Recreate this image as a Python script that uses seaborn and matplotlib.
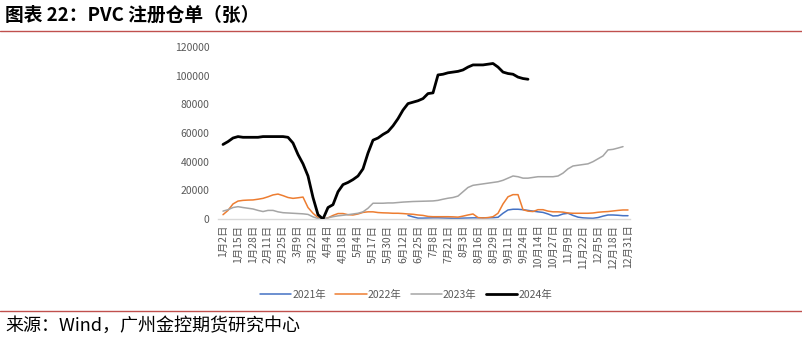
import numpy as np
import pandas as pd
import matplotlib
matplotlib.use("Agg")
import matplotlib.pyplot as plt
from matplotlib.lines import Line2D
import seaborn as sns

# ---- data (sampled every 1/3 of a tick interval) ----
tick_labels = ["1月2日", "1月15日", "1月28日", "2月11日", "2月25日", "3月9日", "3月22日",
               "4月4日", "4月18日", "5月4日", "5月17日", "5月30日", "6月12日", "6月25日",
               "7月8日", "7月21日", "8月3日", "8月16日", "8月29日", "9月11日", "9月24日",
               "10月14日", "10月27日", "11月9日", "11月22日", "12月5日", "12月18日", "12月31日"]
nan = np.nan
y2021 = [nan] * 37 + [2500, 1500, 600, 600, 700, 800, 800, 700, 600, 500, 500, 600, 700, 800,
                      800, 800, 800, 900, 1200, 4000, 6300, 6800, 6800, 6500, 6000, 5500, 5000,
                      4600, 3500, 2100, 2300, 3500, 4000, 2500, 1300, 800, 600, 500, 1000, 2000,
                      2800, 2800, 2600, 2300, 2300]
y2022 = [3000, 6000, 10500, 12500, 13000, 13200, 13300, 13800, 14400, 15500, 16800, 17400,
         16300, 15000, 14400, 14800, 15300, 8000, 4000, 1000, 0, 800, 2500, 3800, 3800, 3000,
         2800, 3500, 4600, 5000, 5000, 4500, 4300, 4200, 4000, 4000, 3800, 3500, 3300, 2800,
         2500, 1800, 1600, 1600, 1600, 1600, 1500, 1300, 2000, 2800, 3500, 1000, 700, 1000,
         1600, 4000, 10500, 15500, 17000, 17000, 6500, 5500, 5200, 6500, 6500, 5500, 5000,
         5000, 4800, 4200, 4000, 4000, 4000, 4000, 4200, 4700, 5000, 5200, 5600, 6000, 6300, 6300]
y2023 = [5500, 6500, 8000, 8600, 8000, 7500, 7000, 6000, 5200, 6000, 6000, 5000, 4400, 4200,
         4000, 3800, 3600, 3200, 1500, 300, 0, 800, 1600, 2200, 2600, 3000, 3500, 4000, 5000,
         7500, 11000, 11000, 11000, 11200, 11200, 11500, 11800, 12000, 12200, 12300, 12400,
         12500, 12600, 13000, 13800, 14500, 15000, 16000, 19000, 22000, 23500, 24000, 24500,
         25000, 25500, 26000, 27000, 28500, 30000, 29500, 28500, 28500, 29000, 29500, 29500,
         29500, 29500, 30000, 32000, 35000, 37000, 37500, 38000, 38500, 40000, 42000, 44000,
         48200, 48600, 49500, 50500, nan]
y2024 = [52000, 54000, 56500, 57500, 57000, 57000, 57000, 57000, 57500, 57500, 57500, 57500,
         57500, 57000, 53000, 45000, 38500, 30000, 15000, 3000, 0, 8000, 10000, 19000, 24000,
         25500, 27500, 30000, 35000, 46000, 55000, 56500, 59000, 61000, 65000, 70000, 76000,
         80500, 81500, 82500, 84000, 87500, 88000, 100500, 101000, 102000, 102500, 103000,
         104000, 106000, 107500, 107500, 107500, 108000, 108500, 106000, 102500, 101500, 101000,
         99000, 98000, 97500] + [nan] * 20
series_names = ["2021年", "2022年", "2023年", "2024年"]
series_vals = [y2021, y2022, y2023, y2024]
colors = ["#4472C4", "#ED7D31", "#A5A5A5", "#000000"]
widths = [1.1, 1.1, 1.1, 2.0]

steps_per_tick = 3
n = len(y2022)
idx = np.arange(n)
df = pd.concat([pd.DataFrame({"idx": idx, "value": v, "year": name})
                for name, v in zip(series_names, series_vals)], ignore_index=True)

sns.set_theme(style="white")
plt.rcParams["font.family"] = ["Noto Sans CJK SC", "DejaVu Sans"]

W, H = 803, 342
fig = plt.figure(figsize=(W / 100, H / 100), dpi=100)
ax_l, ax_r, ax_t, ax_b = 218, 630, 47, 219
ax = fig.add_axes([ax_l / W, 1 - ax_b / H, (ax_r - ax_l) / W, (ax_b - ax_t) / H])

for name, c, lw in zip(series_names, colors, widths):
    sub = df[df["year"] == name].dropna()
    sns.lineplot(data=sub, x="idx", y="value", color=c, linewidth=lw, ax=ax,
                 label=name, legend=False, zorder=3 if name == "2024年" else 2)

ax.set_xlim(-1, (ax_r - ax_l) / 5 - 1)
ax.set_ylim(0, 120000)
ax.set_yticks(np.arange(0, 120001, 20000))
ax.set_yticklabels([str(v) for v in range(0, 120001, 20000)])
ax.set_xticks(np.arange(0, n, steps_per_tick))
ax.set_xticklabels(tick_labels, rotation=90)
ax.tick_params(axis="both", labelsize=7.5, colors="#595959", length=0, pad=6)
ax.tick_params(axis="x", pad=4)
ax.set_xlabel("")
ax.set_ylabel("")
for s in ["top", "right", "left"]:
    ax.spines[s].set_visible(False)
ax.spines["bottom"].set_color("#D9D9D9")
ax.spines["bottom"].set_linewidth(1.0)
ax.grid(False)

handles = [Line2D([0], [0], color=c, lw=lw) for c, lw in zip(colors, widths)]
fig.legend(handles, series_names, loc="center", ncol=4, frameon=False,
           bbox_to_anchor=(406 / W, 1 - 295 / H), fontsize=7.5, handlelength=3.0,
           columnspacing=0.9, handletextpad=0.1, labelcolor="#595959")

# title, rules, source
fig.text(5 / W, 1 - 15 / H, "图表 22：PVC 注册仓单（张）", fontsize=13.5, fontweight="bold",
         va="center", ha="left", color="#000000")
red = "#C0504D"
fig.add_artist(Line2D([0, 1], [1 - 31 / H, 1 - 31 / H], color=red, lw=1.0, transform=fig.transFigure))
fig.add_artist(Line2D([0, 1], [1 - 311 / H, 1 - 311 / H], color=red, lw=1.0, transform=fig.transFigure))
fig.text(5 / W, 1 - 326 / H, "来源：Wind，广州金控期货研究中心", fontsize=13, va="center",
         ha="left", color="#000000")

fig.savefig("out.png", dpi=100)
